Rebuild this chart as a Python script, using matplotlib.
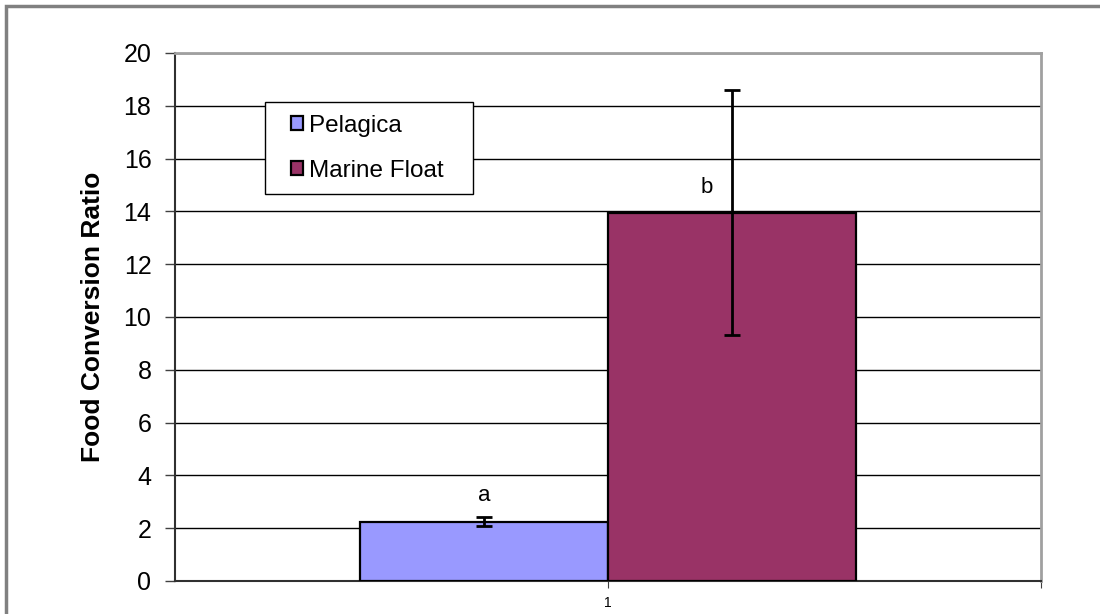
import matplotlib
matplotlib.use("Agg")
import matplotlib.pyplot as plt
from matplotlib.patches import Rectangle

plt.rcParams['font.family'] = ['Liberation Sans', 'DejaVu Sans']

categories = ["1"]
series_names = ["Pelagica", "Marine Float"]
values = [2.25, 13.95]
errors = [0.17, 4.65]
letters = ["a", "b"]
letter_y = [3.25, 14.9]
colors = ["#9999FF", "#993366"]
yticks = [0, 2, 4, 6, 8, 10, 12, 14, 16, 18, 20]

W, H = 1100, 614
fig = plt.figure(figsize=(W / 100, H / 100), dpi=100)
# outer chart border
fig.patches.append(Rectangle((6 / W, -0.1), 1.2, (H - 6) / H + 0.1,
                             transform=fig.transFigure, fill=False,
                             edgecolor="#808080", linewidth=2.5))

ax = fig.add_axes([175 / W, 33 / H, 866 / W, 528 / H])
width = 248 / 866
offsets = [-width / 2, width / 2]
letter_shift = [0.0, -25 / 866]
for i, name in enumerate(series_names):
    x = 0 + offsets[i]
    ax.bar(x, values[i], width=width, color=colors[i], edgecolor="black",
           linewidth=1.6, label=name, zorder=3)
    ax.errorbar(x, values[i], yerr=errors[i], fmt="none", ecolor="black",
                elinewidth=2, capsize=6, capthick=2, zorder=4)
    ax.text(x + letter_shift[i], letter_y[i], letters[i], ha="center", va="center",
            fontsize=16, zorder=5)

ax.set_xlim(-0.5, 0.5)
ax.set_ylim(0, 20)
ax.set_yticks(yticks)
ax.set_xticks([0, 0.5])
ax.set_xticklabels([categories[0], ""])
ax.tick_params(axis="x", length=5, labelsize=10, color="#404040", pad=6)
ax.tick_params(axis="y", length=7, labelsize=18, direction="out", color="#404040", width=1, pad=10)
ax.yaxis.grid(True, color="black", linewidth=1)
ax.set_axisbelow(True)
for s in ["top", "right"]:
    ax.spines[s].set_color("#a0a0a0")
    ax.spines[s].set_linewidth(2)
ax.spines["left"].set_color("#303030")
ax.spines["bottom"].set_color("#303030")
ax.spines["left"].set_linewidth(1.5)
ax.spines["bottom"].set_linewidth(1.5)

ax.set_ylabel("Food Conversion Ratio", fontsize=19, fontweight="bold", labelpad=13)

# legend box
fig.patches.append(Rectangle((265 / W, (H - 194) / H), 208 / W, 92 / H,
                             transform=fig.transFigure, facecolor="white",
                             edgecolor="black", linewidth=1, zorder=9))
leg = fig.legend(loc="center left", bbox_to_anchor=(291 / W, (H - 148.5) / H),
                 frameon=False, fontsize=17.5,
                 handlelength=0.5, handleheight=0.5, handletextpad=0.25,
                 borderpad=0, labelspacing=0.95, borderaxespad=0)
leg.set_zorder(10)

fig.savefig("out.png", dpi=100)
